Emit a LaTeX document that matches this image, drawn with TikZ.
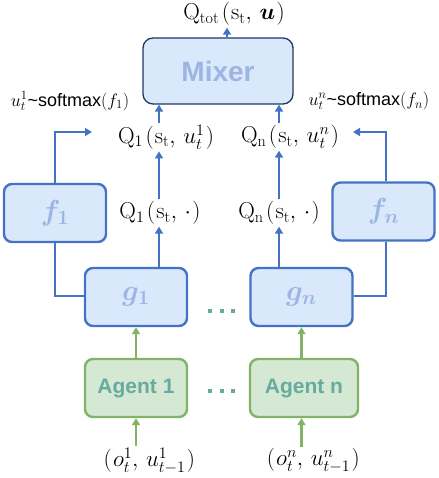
\documentclass[tikz,border=0pt]{standalone}
\usepackage{fix-cm}
\usepackage{amsmath}
\usepackage{bm}
\usepackage{fontspec}
\setsansfont{Liberation Sans}
\usetikzlibrary{arrows.meta,calc}
\definecolor{bline}{HTML}{4472C4}
\definecolor{bfill}{HTML}{DAE8FC}
\definecolor{btext}{HTML}{9DB5E3}
\definecolor{navy}{HTML}{203864}
\definecolor{gfill}{HTML}{D5E8D4}
\definecolor{gline}{HTML}{82B366}
\definecolor{tealtxt}{HTML}{67AB9F}
\tikzset{
  fgbox/.style={draw=bline, line width=2.4pt, fill=bfill, rounded corners=8pt, minimum width=102pt, minimum height=58pt, inner sep=0pt, text=btext, font=\fontsize{29}{32}\selectfont},
  agentbox/.style={draw=gline, line width=2.4pt, fill=gfill, rounded corners=8pt, minimum width=102pt, minimum height=58pt, inner sep=0pt, text=tealtxt, font=\sffamily\bfseries\fontsize{21}{25}\selectfont},
  mixerbox/.style={draw=navy, line width=1.3pt, fill=bfill, rounded corners=10pt, minimum width=150pt, minimum height=66pt, inner sep=0pt, text=btext, font=\sffamily\bfseries\fontsize{28}{32}\selectfont},
  lab/.style={inner sep=2pt, font=\fontsize{23}{27}\selectfont},
  slab/.style={inner sep=0pt, font=\sffamily\fontsize{18}{21}\selectfont},
  conn/.style={draw=bline, line width=2.2pt, -{Triangle[length=7pt,width=8pt]}},
  plain/.style={draw=bline, line width=2.2pt},
  gconn/.style={draw=gline, line width=2.2pt, -{Triangle[length=7pt,width=8pt]}},
  dots/.style={inner sep=0pt, text=tealtxt}
}
\newcommand{\sqdots}{\rule{4pt}{4pt}\hspace{7.5pt}\rule{4pt}{4pt}\hspace{7.5pt}\rule{4pt}{4pt}}
\newcommand{\lp}{\mkern2mu(\mkern1mu}
\newcommand{\rp}{\mkern1mu)}
\begin{document}
\begin{tikzpicture}[x=1pt,y=-1pt]
\useasboundingbox (0,0) rectangle (438,478);
% columns / rows
\coordinate (x1) at (159,0);
\coordinate (xn) at (279,0);
\coordinate (xt) at (227,0);
\coordinate (xr) at (386,0);
\coordinate (ytop) at (0,132);
\coordinate (yb) at (0,296);
\coordinate (endl) at (92,132);
\coordinate (endr) at (353,132);
% nodes
\node[mixerbox] (mixer) at (218,71) {Mixer};
\node[lab] (qtot) at (234,14) {$\mathrm{Q}_{\mathrm{tot}}\lp\mathrm{s}_{\mathrm{t}},\,\bm{u}\rp$};
\node[lab] (q1) at (166,137) {$\mathrm{Q}_1\lp\mathrm{s}_\mathrm{t},\,u_t^1\rp$};
\node[lab] (qn) at (290,137) {$\mathrm{Q}_\mathrm{n}\lp\mathrm{s}_\mathrm{t},\,u_t^n\rp$};
\node[lab] (q1d) at (160,213) {$\mathrm{Q}_1\lp\mathrm{s}_\mathrm{t},\,\cdot\rp$};
\node[lab] (qnd) at (279,213) {$\mathrm{Q}_\mathrm{n}\lp\mathrm{s}_\mathrm{t},\,\cdot\rp$};
\node[slab] (sm1) at (70,101) {$u_t^1$\textasciitilde softmax$(f_1)$};
\node[slab] (smn) at (369,101) {$u_t^n$\textasciitilde softmax$(f_n)$};
\node[fgbox] (f1) at (55,213) {$\bm{f_1}$};
\node[fgbox] (fn) at (383.5,211.5) {$\bm{f_n}$};
\node[fgbox] (g1) at (136,297) {$\bm{g_1}$};
\node[fgbox] (gn) at (301.5,297) {$\bm{g_n}$};
\node[agentbox] (a1) at (136,388) {Agent 1};
\node[agentbox, minimum width=108pt] (an) at (304,388) {Agent n};
\node[lab] (in1) at (148,461) {$\lp o_t^1,\,u_{t-1}^1\rp$};
\node[lab] (inn) at (312,461) {$\lp o_t^n,\,u_{t-1}^n\rp$};
\node[dots] (dg) at (221.5,311) {\sqdots};
\node[dots] (da) at (221.5,391) {\sqdots};
% connectors
\draw[conn] (mixer.north -| xt) -- (qtot.south -| xt);
\draw[conn] (q1.north -| x1) -- (mixer.south -| x1);
\draw[conn] (qn.north -| xn) -- (mixer.south -| xn);
\draw[conn] (q1d.north -| x1) -- (q1.south -| x1);
\draw[conn] (qnd.north -| xn) -- (qn.south -| xn);
\draw[conn] (g1.north -| x1) -- (q1d.south -| x1);
\draw[conn] (gn.north -| xn) -- (qnd.south -| xn);
\draw[conn] (f1.north) -- (f1.north |- ytop) -- (endl);
\draw[conn] (fn.north -| xr) -- (xr |- ytop) -- (endr);
\draw[plain] (f1.south) -- (f1.south |- yb) -- (g1.west |- yb);
\draw[plain] (fn.south -| xr) -- (xr |- yb) -- (gn.east |- yb);
\draw[gconn] (a1.north) -- (g1.south);
\draw[gconn] (an.north -| gn) -- (gn.south);
\draw[gconn] (in1.north -| a1) -- (a1.south);
\draw[gconn] (inn.north -| gn) -- (an.south -| gn);
\end{tikzpicture}
\end{document}
